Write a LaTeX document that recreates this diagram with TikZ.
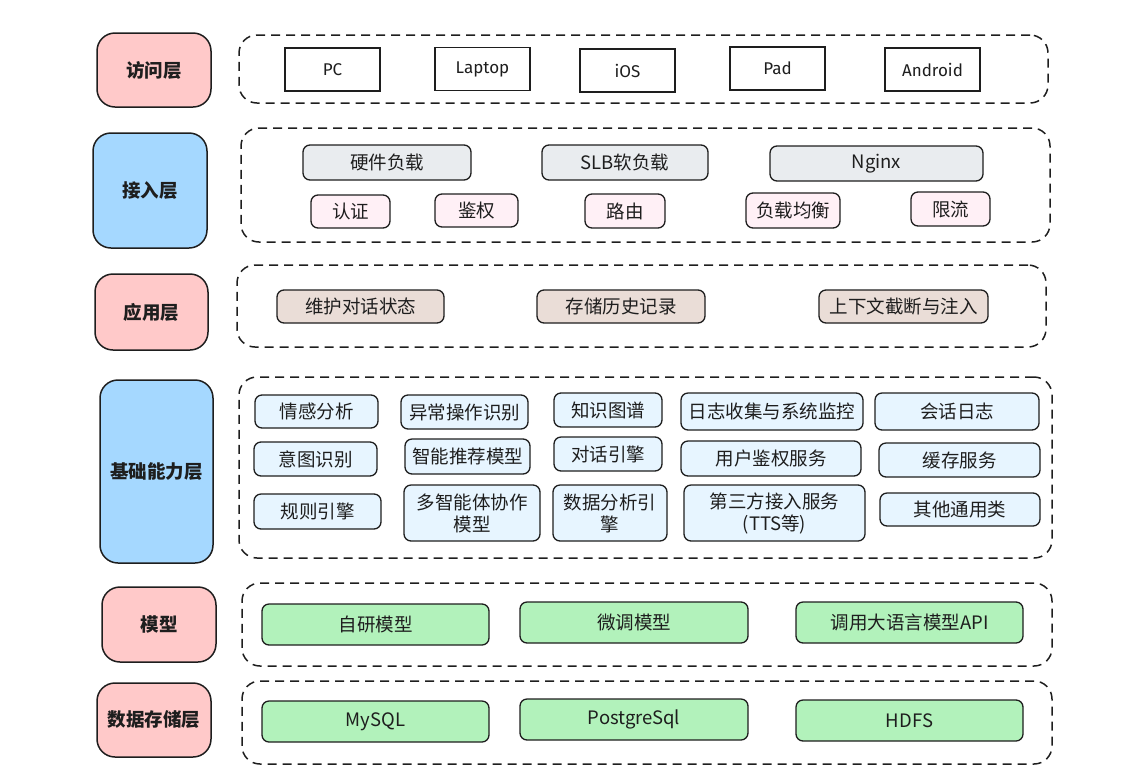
\documentclass[tikz,border=0pt]{standalone}
\usepackage{fontspec}
\setmainfont{Noto Sans CJK SC}
\newfontfamily\handfont{Fira Sans}
\definecolor{inkline}{HTML}{1E1E1E}
\definecolor{layerpink}{HTML}{FFC9C9}
\definecolor{layerblue}{HTML}{A5D8FF}
\definecolor{lbgray}{HTML}{E9ECEF}
\definecolor{lbpink}{HTML}{FFF0F6}
\definecolor{appbrown}{HTML}{EADDD7}
\definecolor{baseblue}{HTML}{E7F5FF}
\definecolor{modelgreen}{HTML}{B2F2BB}
\begin{document}
\begin{tikzpicture}[x=1pt, y=-1pt,
    wh/.style 2 args={minimum width=#1, minimum height=#2},
    every node/.style={inner sep=0pt, outer sep=0pt, align=center,
        font=\fontsize{18.5}{22}\selectfont, text=inkline},
    layer/.style={draw=inkline, line width=1.5pt, rounded corners=18pt,
        font=\fontsize{18.5}{22}\selectfont\bfseries},
    group/.style={draw=inkline, line width=1.5pt, rounded corners=18pt,
        dash pattern=on 9pt off 6pt},
    device/.style={draw=inkline, line width=1.3pt, fill=white,
        wh={95}{43}, font=\fontsize{17}{21}\selectfont\handfont},
    item/.style={draw=inkline, line width=1.3pt, rounded corners=7pt}]

    \useasboundingbox ( 0, 0 ) rectangle ( 1129, 772 );

    % 层名
    \node [layer, fill=layerpink, wh={114}{74}]  (acc)   at ( 154, 70 )    {访问层};
    \node [layer, fill=layerblue, wh={114}{115}] (ing)   at ( 150, 190.5 ) {接入层};
    \node [layer, fill=layerpink, wh={113}{76}]  (app)   at ( 151.5, 312 ) {应用层};
    \node [layer, fill=layerblue, wh={113}{183}] (base)  at ( 156.5, 471.5 ) {基础能力层};
    \node [layer, fill=layerpink, wh={114}{75}]  (model) at ( 159, 624.5 ) {模型};
    \node [layer, fill=layerpink, wh={114}{74}]  (data)  at ( 154, 720 )   {数据存储层};

    % 虚线框
    \node [group, wh={809}{68}]  (accbox)   at ( 643.5, 69 )    {};
    \node [group, wh={809}{114}] (ingbox)   at ( 645.5, 185 )   {};
    \node [group, wh={809}{82}]  (appbox)   at ( 641.5, 306 )   {};
    \node [group, wh={813}{181}] (basebox)  at ( 645.5, 467.5 ) {};
    \node [group, wh={810}{83}]  (modelbox) at ( 647, 624.5 )   {};
    \node [group, wh={810}{83}]  (databox)  at ( 647, 722.5 )   {};

    % 访问层
    \node [device] (pc)      at ( 332.5, 69.5 ) {PC};
    \node [device] (laptop)  at ( 482.5, 69 )   {Laptop};
    \node [device] (ios)     at ( 627.5, 70.5 ) {iOS};
    \node [device] (pad)     at ( 777.5, 68.5 ) {Pad};
    \node [device] (android) at ( 932.5, 69.5 ) {Android};

    % 接入层
    \node [item, fill=lbgray, wh={168}{35}] (hwlb)  at ( 387, 162.5 )   {硬件负载};
    \node [item, fill=lbgray, wh={166}{35}] (slb)   at ( 625, 162.5 )   {SLB软负载};
    \node [item, fill=lbgray, wh={213}{35}] (nginx) at ( 876.5, 163.5 ) {Nginx};
    \node [item, fill=lbpink, wh={79}{33}]  (authn) at ( 350.5, 211.5 ) {认证};
    \node [item, fill=lbpink, wh={83}{33}]  (authz) at ( 476.5, 210.5 ) {鉴权};
    \node [item, fill=lbpink, wh={80}{34}]  (route) at ( 625, 211 )     {路由};
    \node [item, fill=lbpink, wh={94}{35}]  (bal)   at ( 793, 210.5 )   {负载均衡};
    \node [item, fill=lbpink, wh={79}{34}]  (limit) at ( 950.5, 209 )   {限流};

    % 应用层
    \node [item, fill=appbrown, wh={167}{33}] (state)   at ( 360.5, 306.5 ) {维护对话状态};
    \node [item, fill=appbrown, wh={168}{33}] (history) at ( 621, 306.5 )   {存储历史记录};
    \node [item, fill=appbrown, wh={169}{33}] (context) at ( 903.5, 306.5 ) {上下文截断与注入};

    % 基础能力层
    \node [item, fill=baseblue, wh={123}{33}] (emotion)  at ( 316.5, 411.5 ) {情感分析};
    \node [item, fill=baseblue, wh={123}{34}] (intent)   at ( 315.5, 459 )   {意图识别};
    \node [item, fill=baseblue, wh={127}{35}] (rule)     at ( 317.5, 511.5 ) {规则引擎};
    \node [item, fill=baseblue, wh={127}{34}] (anomaly)  at ( 464.5, 412 )   {异常操作识别};
    \node [item, fill=baseblue, wh={125}{35}] (recom)    at ( 467.5, 456.5 ) {智能推荐模型};
    \node [item, fill=baseblue, wh={136}{56}] (agents)   at ( 472, 513 )     {多智能体协作\\模型};
    \node [item, fill=baseblue, wh={108}{34}] (kg)       at ( 608, 410 )     {知识图谱};
    \node [item, fill=baseblue, wh={108}{34}] (dialog)   at ( 608, 454 )     {对话引擎};
    \node [item, fill=baseblue, wh={114}{56}] (analysis) at ( 610, 513 )     {数据分析引\\擎};
    \node [item, fill=baseblue, wh={182}{37}] (monitor)  at ( 772, 411.5 )   {日志收集与系统监控};
    \node [item, fill=baseblue, wh={180}{35}] (userauth) at ( 771, 458.5 )   {用户鉴权服务};
    \node [item, fill=baseblue, wh={181}{56}] (third)    at ( 774.5, 513 )   {第三方接入服务\\(TTS等)};
    \node [item, fill=baseblue, wh={164}{37}] (sesslog)  at ( 957, 411.5 )   {会话日志};
    \node [item, fill=baseblue, wh={161}{34}] (cache)    at ( 959.5, 460 )   {缓存服务};
    \node [item, fill=baseblue, wh={160}{33}] (common)   at ( 960, 509.5 )   {其他通用类};

    % 模型
    \node [item, fill=modelgreen, wh={227}{41}] (selfdev)  at ( 375.5, 624.5 ) {自研模型};
    \node [item, fill=modelgreen, wh={228}{41}] (finetune) at ( 634, 622.5 )   {微调模型};
    \node [item, fill=modelgreen, wh={227}{41}] (llmapi)   at ( 909.5, 622.5 ) {调用大语言模型API};

    % 数据存储层
    \node [item, fill=modelgreen, wh={227}{41}] (mysql) at ( 375.5, 721.5 ) {MySQL};
    \node [item, fill=modelgreen, wh={228}{41}] (pg)    at ( 634, 719.5 )   {PostgreSql};
    \node [item, fill=modelgreen, wh={227}{41}] (hdfs)  at ( 909.5, 720.5 ) {HDFS};
\end{tikzpicture}
\end{document}
